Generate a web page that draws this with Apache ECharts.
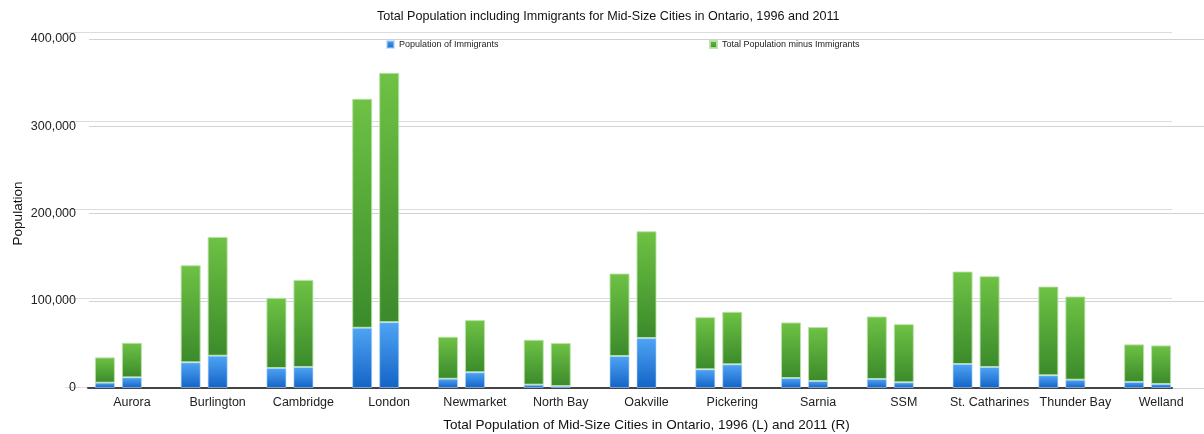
<!DOCTYPE html>
<html>
<head>
<meta charset="utf-8">
<script src="https://cdn.jsdelivr.net/npm/echarts@6/dist/echarts.min.js"></script>
<style>
  html, body { margin: 0; padding: 0; background: #ffffff; }
  #chart { width: 1204px; height: 434px; }
</style>
</head>
<body>
<div id="chart"></div>
<script>
const categories = ['Aurora', 'Burlington', 'Cambridge', 'London', 'Newmarket', 'North Bay', 'Oakville', 'Pickering', 'Sarnia', 'SSM', 'St. Catharines', 'Thunder Bay', 'Welland'];
const immigrants1996 = [6100, 29400, 22900, 69000, 10600, 3800, 36600, 21400, 11400, 10300, 27500, 14500, 6900];
const others1996 = [29000, 111300, 80400, 262500, 48100, 51500, 94600, 59800, 63700, 71700, 106000, 101800, 43100];
const immigrants2011 = [12200, 37000, 24000, 75500, 18000, 2200, 57200, 27100, 8000, 6500, 24000, 9500, 4600];
const others2011 = [39600, 136100, 99900, 285700, 59800, 49300, 122400, 60200, 61800, 66700, 104100, 95400, 44200];
const yTicks = [0, 100000, 200000, 300000, 400000];

const FONT = "'Liberation Sans', Arial, Helvetica, sans-serif";
const blueFill = new echarts.graphic.LinearGradient(0, 0, 0, 1, [
  { offset: 0, color: '#4ea4f4' }, { offset: 1, color: '#1463c6' }
]);
const greenFill = new echarts.graphic.LinearGradient(0, 0, 0, 1, [
  { offset: 0, color: '#6ec244' }, { offset: 1, color: '#3b8a2b' }
]);
const blueStyle = { color: blueFill, borderColor: 'rgba(170,210,250,0.6)', borderWidth: 1 };
const greenStyle = { color: greenFill, borderColor: 'rgba(185,225,165,0.9)', borderWidth: 1 };

const chart = echarts.init(document.getElementById('chart'), null, { renderer: 'canvas' });
const fmt = v => v.toLocaleString('en-US');

chart.setOption({
  animation: false,
  backgroundColor: '#ffffff',
  title: {
    text: 'Total Population including Immigrants for Mid-Size Cities in Ontario, 1996 and 2011',
    left: 372,
    top: 5,
    textStyle: { fontFamily: FONT, fontSize: 12.6, fontWeight: 'normal', color: '#111' }
  },
  legend: [
    {
      data: ['Population of Immigrants'],
      left: 381, top: 35,
      icon: 'rect', itemWidth: 7, itemHeight: 7, itemGap: 6,
      textStyle: { fontFamily: FONT, fontSize: 9, color: '#222' }
    },
    {
      data: ['Total Population minus Immigrants'],
      left: 704, top: 35,
      icon: 'rect', itemWidth: 7, itemHeight: 7, itemGap: 6,
      textStyle: { fontFamily: FONT, fontSize: 9, color: '#222' }
    }
  ],
  grid: [
    { left: 89, right: 0, top: 39, bottom: 46, outerBoundsMode: 'none', containLabel: false },
    { left: 65, right: 32, top: 32, bottom: 47, outerBoundsMode: 'none', containLabel: false },
    { left: 88, right: 32, top: 39, bottom: 46, outerBoundsMode: 'none', containLabel: false }
  ],
  xAxis: [
    {
      gridIndex: 0,
      type: 'category',
      data: categories,
      axisLine: { show: false },
      axisTick: { show: false },
      axisLabel: { fontFamily: FONT, fontSize: 12.5, color: '#222', margin: 8, interval: 0 },
      name: 'Total Population of Mid-Size Cities in Ontario, 1996 (L) and 2011 (R)',
      nameLocation: 'middle',
      nameGap: 30,
      nameMoveOverlap: false,
      nameTextStyle: { fontFamily: FONT, fontSize: 13.5, color: '#111' }
    },
    {
      gridIndex: 1, type: 'category', data: categories,
      axisLine: { show: false }, axisTick: { show: false }, axisLabel: { show: false }
    },
    {
      gridIndex: 2, type: 'category', data: categories,
      axisLine: { show: true, lineStyle: { color: '#444', width: 2 } },
      axisTick: { show: false }, axisLabel: { show: false }
    }
  ],
  yAxis: [
    {
      gridIndex: 0,
      type: 'value',
      min: yTicks[0],
      max: yTicks[yTicks.length - 1],
      interval: yTicks[1] - yTicks[0],
      axisLine: { show: false },
      axisTick: { show: false },
      splitLine: { lineStyle: { color: '#d2d2d2', width: 1 } },
      axisLabel: { fontFamily: FONT, fontSize: 12.5, color: '#222', margin: 13, formatter: fmt },
      name: 'Population',
      nameLocation: 'middle',
      nameGap: 64,
      nameMoveOverlap: false,
      nameTextStyle: { fontFamily: FONT, fontSize: 13.5, color: '#111' }
    },
    {
      gridIndex: 1, type: 'value',
      min: yTicks[0], max: yTicks[yTicks.length - 1], interval: yTicks[1] - yTicks[0],
      axisLine: { show: false }, axisTick: { show: false }, axisLabel: { show: false },
      splitLine: { lineStyle: { color: '#dcdcdc', width: 1 } }
    },
    {
      gridIndex: 2, type: 'value',
      min: yTicks[0], max: yTicks[yTicks.length - 1],
      show: false, splitLine: { show: false }
    }
  ],
  series: [
    {
      name: 'Population of Immigrants', type: 'bar', stack: 'y1996',
      xAxisIndex: 0, yAxisIndex: 0,
      barWidth: 20, barGap: '35%',
      data: immigrants1996, itemStyle: blueStyle
    },
    {
      name: 'Total Population minus Immigrants', type: 'bar', stack: 'y1996',
      xAxisIndex: 0, yAxisIndex: 0,
      barWidth: 20, barGap: '35%',
      data: others1996, itemStyle: greenStyle
    },
    {
      name: 'Population of Immigrants', type: 'bar', stack: 'y2011',
      xAxisIndex: 0, yAxisIndex: 0,
      barWidth: 20, barGap: '35%',
      data: immigrants2011, itemStyle: blueStyle
    },
    {
      name: 'Total Population minus Immigrants', type: 'bar', stack: 'y2011',
      xAxisIndex: 0, yAxisIndex: 0,
      barWidth: 20, barGap: '35%',
      data: others2011, itemStyle: greenStyle
    },
    {
      name: 'spacer', type: 'bar', stack: 'spacer',
      xAxisIndex: 0, yAxisIndex: 0,
      barWidth: 20, barGap: '35%',
      data: categories.map(() => '-'),
      silent: true
    }
  ]
});
</script>
</body>
</html>
